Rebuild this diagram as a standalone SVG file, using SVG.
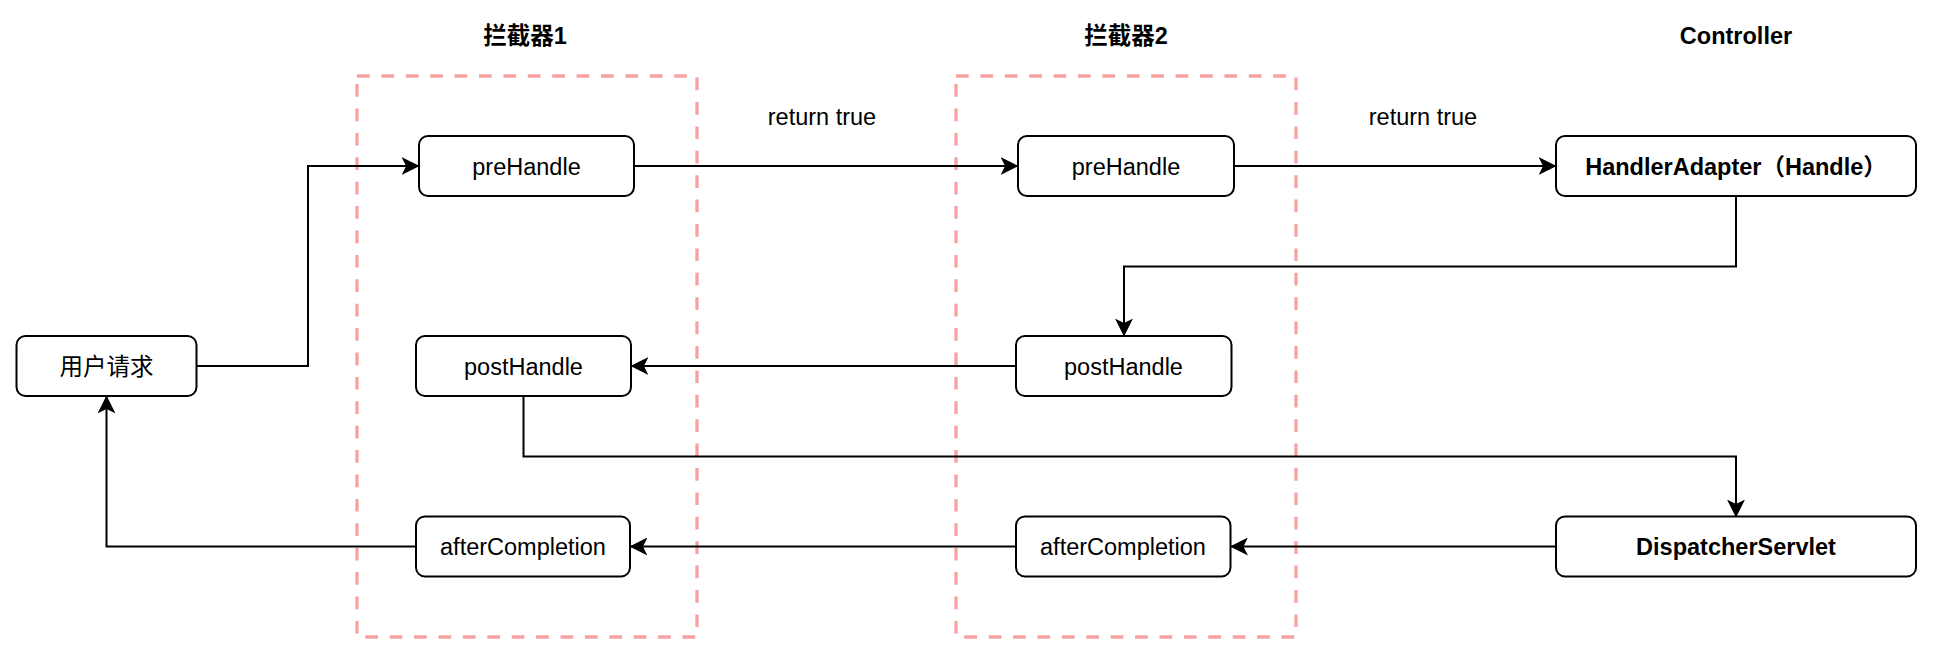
<svg xmlns="http://www.w3.org/2000/svg" width="1934" height="655" viewBox="0 0 1934 655">
  <style>
    .node rect { fill: #ffffff; stroke: #000000; stroke-width: 2; }
    .lbl { font-family: "Liberation Sans", Arial, "Noto Sans CJK SC", sans-serif; font-size: 23.5px; fill: #000000; text-anchor: middle; }
    .bold { font-weight: bold; }
    .group { fill: none; stroke: #F7A1A1; stroke-width: 3.3; stroke-dasharray: 12.7 11.7; }
    .conn path { fill: none; stroke: #000000; stroke-width: 2; marker-end: url(#arrow); }
  </style>
  <defs>
    <marker id="arrow" markerUnits="userSpaceOnUse" markerWidth="18" markerHeight="18" viewBox="0 0 16 16" refX="15.5" refY="8" orient="auto">
      <path d="M0,0 L16,8 L0,16 L4,8 Z" fill="#000000" stroke="none"/>
    </marker>
  </defs>
  <rect width="1934" height="655" fill="#ffffff"/>

  <g id="interceptor1-group">
    <rect class="group" x="357" y="76" width="340" height="561"/>
    <text class="lbl bold" x="525" y="44">拦截器1</text>
  </g>
  <g id="interceptor2-group">
    <rect class="group" x="956" y="76" width="340" height="561"/>
    <text class="lbl bold" x="1126" y="44">拦截器2</text>
  </g>
  <g id="controller-title">
    <text class="lbl bold" x="1736" y="44">Controller</text>
  </g>

  <g id="connectors" class="conn">
    <path d="M196.5,366 H308 V166 H419"/>
    <path d="M634,166 H1018"/>
    <path d="M1234,166 H1556"/>
    <path d="M1736,196 V266.5 H1124 V336"/>
    <path d="M1016,366 H631"/>
    <path d="M523.5,396 V456.5 H1736 V517"/>
    <path d="M1556,546.5 H1230.5"/>
    <path d="M1016,546.5 H630"/>
    <path d="M416,546.5 H106.5 V396"/>
  </g>

  <g id="label-return1">
    <text class="lbl" x="822" y="124.5">return true</text>
  </g>
  <g id="label-return2">
    <text class="lbl" x="1423" y="124.5">return true</text>
  </g>

  <g id="user-request" class="node">
    <rect x="16.5" y="336" width="180" height="60" rx="9"/>
    <text class="lbl" x="106.5" y="374.5">用户请求</text>
  </g>
  <g id="prehandle1" class="node">
    <rect x="419" y="136" width="215" height="60" rx="9"/>
    <text class="lbl" x="526.5" y="174.5">preHandle</text>
  </g>
  <g id="posthandle1" class="node">
    <rect x="416" y="336" width="215" height="60" rx="9"/>
    <text class="lbl" x="523.5" y="374.5">postHandle</text>
  </g>
  <g id="aftercompletion1" class="node">
    <rect x="416" y="516.5" width="214" height="60" rx="9"/>
    <text class="lbl" x="523" y="555">afterCompletion</text>
  </g>
  <g id="prehandle2" class="node">
    <rect x="1018" y="136" width="216" height="60" rx="9"/>
    <text class="lbl" x="1126" y="174.5">preHandle</text>
  </g>
  <g id="posthandle2" class="node">
    <rect x="1016" y="336" width="215.5" height="60" rx="9"/>
    <text class="lbl" x="1123.5" y="374.5">postHandle</text>
  </g>
  <g id="aftercompletion2" class="node">
    <rect x="1016" y="516.5" width="214.5" height="60" rx="9"/>
    <text class="lbl" x="1123" y="555">afterCompletion</text>
  </g>
  <g id="handler-adapter" class="node">
    <rect x="1556" y="136" width="360" height="60" rx="9"/>
    <text class="lbl bold" x="1736" y="174.5">HandlerAdapter（Handle）</text>
  </g>
  <g id="dispatcher-servlet" class="node">
    <rect x="1556" y="516.5" width="360" height="60" rx="9"/>
    <text class="lbl bold" x="1736" y="555">DispatcherServlet</text>
  </g>
</svg>
